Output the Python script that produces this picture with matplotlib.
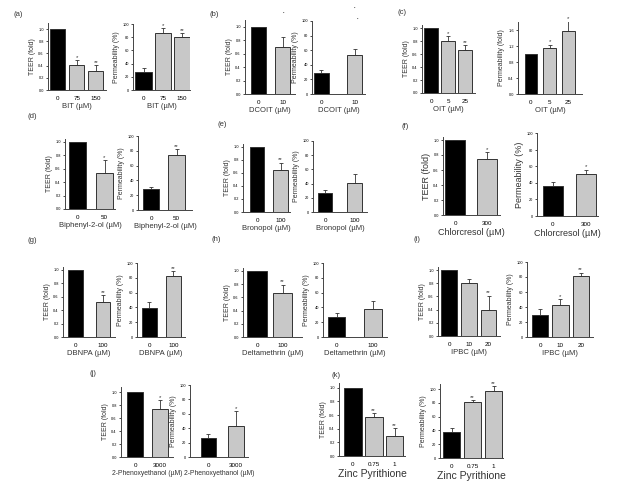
import matplotlib
matplotlib.use("Agg")
import matplotlib.pyplot as plt

plt.rcParams['font.family'] = ['Liberation Sans', 'DejaVu Sans']

W, H = 620, 486

# ---------------- data ----------------
a_ticks = ["0", "75", "150"]
a_xlabel = "BIT (µM)"
a_teer = [1.0, 0.41, 0.31]
a_teer_err = [0, 0.08, 0.10]
a_teer_sig = ["", "*", "**"]
a_perm = [28, 87, 80]
a_perm_err = [5, 6.5, 6]
a_perm_sig = ["", "*", "**"]

b_ticks = ["0", "10"]
b_xlabel = "DCOIT (µM)"
b_teer = [1.0, 0.70]
b_teer_err = [0, 0.14]
b_teer_sig = ["", ""]
b_perm = [29, 53]
b_perm_err = [4.5, 9]
b_perm_sig = ["", ""]

c_ticks = ["0", "5", "25"]
c_xlabel = "OIT (µM)"
c_teer = [1.0, 0.81, 0.67]
c_teer_err = [0, 0.07, 0.07]
c_teer_sig = ["", "*", "**"]
c_perm = [1.0, 1.15, 1.58]
c_perm_err = [0, 0.08, 0.24]
c_perm_sig = ["", "*", "*"]

d_ticks = ["0", "50"]
d_xlabel = "Biphenyl-2-ol (µM)"
d_teer = [1.0, 0.54]
d_teer_err = [0, 0.19]
d_teer_sig = ["", "*"]
d_perm = [29, 74]
d_perm_err = [2.5, 8]
d_perm_sig = ["", "**"]

e_ticks = ["0", "100"]
e_xlabel = "Bronopol (µM)"
e_teer = [1.0, 0.65]
e_teer_err = [0, 0.11]
e_teer_sig = ["", "**"]
e_perm = [27, 41]
e_perm_err = [4.5, 12]
e_perm_sig = ["", ""]

f_ticks = ["0", "300"]
f_xlabel = "Chlorcresol (µM)"
f_teer = [1.0, 0.74]
f_teer_err = [0, 0.10]
f_teer_sig = ["", "*"]
f_perm = [36, 51]
f_perm_err = [5, 5]
f_perm_sig = ["", "*"]

g_ticks = ["0", "100"]
g_xlabel = "DBNPA (µM)"
g_teer = [1.0, 0.515]
g_teer_err = [0, 0.11]
g_teer_sig = ["", "**"]
g_perm = [39.5, 82.7]
g_perm_err = [8, 6]
g_perm_sig = ["", "**"]

h_ticks = ["0", "100"]
h_xlabel = "Deltamethrin (µM)"
h_teer = [1.0, 0.66]
h_teer_err = [0, 0.13]
h_teer_sig = ["", "**"]
h_perm = [27, 38]
h_perm_err = [5, 10]
h_perm_sig = ["", ""]

i_ticks = ["0", "10", "20"]
i_xlabel = "IPBC (µM)"
i_teer = [1.0, 0.81, 0.40]
i_teer_err = [0, 0.06, 0.21]
i_teer_sig = ["", "", "**"]
i_perm = [30, 42.7, 81]
i_perm_err = [8, 8, 5]
i_perm_sig = ["", "*", "**"]

j_ticks = ["0", "3000"]
j_xlabel = "2-Phenoxyethanol (µM)"
j_teer = [1.0, 0.74]
j_teer_err = [0, 0.13]
j_teer_sig = ["", "*"]
j_perm = [27, 43]
j_perm_err = [5, 21]
j_perm_sig = ["", "*"]

k_ticks = ["0", "0.75", "1"]
k_xlabel = "Zinc Pyrithione"
k_teer = [1.0, 0.57, 0.29]
k_teer_err = [0, 0.06, 0.12]
k_teer_sig = ["", "**", "**"]
k_perm = [37, 81, 97]
k_perm_err = [7, 3, 7]
k_perm_sig = ["", "**", "**"]

teer_yticks = [0.0, 0.2, 0.4, 0.6, 0.8, 1.0]
perm_yticks = [0, 20, 40, 60, 80, 100]
fold_yticks = [0.0, 0.4, 0.8, 1.2, 1.6]

fig = plt.figure(figsize=(W / 100, H / 100), dpi=100)


def make_axes(x0, x1, ytop, ybot):
    return fig.add_axes([x0 / W, 1 - ybot / H, (x1 - x0) / W, (ybot - ytop) / H])


def panel(rect, vals, errs, sigs, ticks, xlabel, ylabel, ylim, yticks, yfmt,
          xlim, width, ylab_fs=5, xlab_fs=5.5, xt_fs=4.5):
    ax = make_axes(*rect)
    pos = list(range(len(vals)))
    colors = ["#000000"] + ["#c8c8c8"] * (len(vals) - 1)
    ax.bar(pos, vals, width=width, color=colors, edgecolor="#333333",
           linewidth=0.7, zorder=2)
    ax.errorbar(pos, vals, yerr=[[0] * len(vals), errs], fmt="none",
                ecolor="#333333", elinewidth=0.6, capsize=1.5, capthick=0.6,
                zorder=3)
    span = ylim[1] - ylim[0]
    for p, v, e, s in zip(pos, vals, errs, sigs):
        if s:
            ax.text(p, v + e + span * 0.005, s, ha="center", va="bottom",
                    fontsize=4.3, color="#333333")
    ax.set_xlim(*xlim)
    ax.set_ylim(*ylim)
    ax.set_xticks(pos)
    ax.set_xticklabels(ticks, fontsize=xt_fs)
    ax.set_yticks(yticks)
    ax.set_yticklabels([yfmt.format(t) for t in yticks], fontsize=2.8)
    ax.tick_params(axis="x", length=0, pad=4)
    ax.tick_params(axis="y", length=1.5, width=0.5, pad=1.5)
    for sp in ("top", "right"):
        ax.spines[sp].set_visible(False)
    for sp in ("left", "bottom"):
        ax.spines[sp].set_linewidth(0.7)
        ax.spines[sp].set_color("#444444")
    ax.set_xlabel(xlabel, fontsize=xlab_fs, labelpad=1.5, color="#333333")
    ax.set_ylabel(ylabel, fontsize=ylab_fs, labelpad=2, color="#333333")
    ax.patch.set_alpha(0)
    return ax


T = "TEER (fold)"
P = "Permeability (%)"

# (a)
panel((48, 106, 23, 90), a_teer, a_teer_err, a_teer_sig, a_ticks, a_xlabel, T,
      (0, 1.1), teer_yticks, "{:.1f}", (-0.49, 2.52), 0.78)
panel((133, 190, 24, 90), a_perm, a_perm_err, a_perm_sig, a_ticks, a_xlabel, P,
      (0, 100), perm_yticks, "{:d}", (-0.55, 2.42), 0.85)
# (b)
panel((245, 295, 20, 94), b_teer, b_teer_err, b_teer_sig, b_ticks, b_xlabel, T,
      (0, 1.1), teer_yticks, "{:.1f}", (-0.56, 1.52), 0.63)
panel((312, 365, 21, 94), b_perm, b_perm_err, b_perm_sig, b_ticks, b_xlabel, P,
      (0, 100), perm_yticks, "{:d}", (-0.28, 1.3), 0.45)
# (c)
panel((422, 475, 25, 93), c_teer, c_teer_err, c_teer_sig, c_ticks, c_xlabel, T,
      (0, 1.05), teer_yticks, "{:.1f}", (-0.55, 2.6), 0.85)
panel((518, 582, 21.6, 94), c_perm, c_perm_err, c_perm_sig, c_ticks, c_xlabel,
      "Permeability (fold)", (0, 1.81), fold_yticks, "{:.1f}", (-0.69, 2.72), 0.67)
# (d)
panel((65, 115, 138.6, 209), d_teer, d_teer_err, d_teer_sig, d_ticks, d_xlabel, T,
      (0, 1.05), teer_yticks, "{:.1f}", (-0.44, 1.38), 0.62)
panel((138, 192, 136, 210), d_perm, d_perm_err, d_perm_sig, d_ticks, d_xlabel, P,
      (0, 100), perm_yticks, "{:d}", (-0.51, 1.6), 0.65)
# (e)
panel((243, 290, 143.7, 212), e_teer, e_teer_err, e_teer_sig, e_ticks, e_xlabel, T,
      (0, 1.05), teer_yticks, "{:.1f}", (-0.6, 1.4), 0.62)
panel((313, 367, 141, 212), e_perm, e_perm_err, e_perm_sig, e_ticks, e_xlabel, P,
      (0, 100), perm_yticks, "{:d}", (-0.41, 1.42), 0.5)
# (f)
panel((443, 500, 137, 215), f_teer, f_teer_err, f_teer_sig, f_ticks, f_xlabel, T,
      (0, 1.04), teer_yticks, "{:.1f}", (-0.375, 1.4), 0.63,
      ylab_fs=6.5, xlab_fs=6.5)
panel((537, 598, 133.5, 216), f_perm, f_perm_err, f_perm_sig, f_ticks, f_xlabel, P,
      (0, 100), perm_yticks, "{:d}", (-0.48, 1.36), 0.6,
      ylab_fs=6.5, xlab_fs=6.5)
# (g)
panel((63, 115, 266.6, 337), g_teer, g_teer_err, g_teer_sig, g_ticks, g_xlabel, T,
      (0, 1.05), teer_yticks, "{:.1f}", (-0.45, 1.44), 0.53)
panel((137, 185, 263, 337), g_perm, g_perm_err, g_perm_sig, g_ticks, g_xlabel, P,
      (0, 100), perm_yticks, "{:d}", (-0.52, 1.48), 0.63)
# (h)
panel((243, 302, 267.7, 337), h_teer, h_teer_err, h_teer_sig, h_ticks, h_xlabel, T,
      (0, 1.05), teer_yticks, "{:.1f}", (-0.55, 1.76), 0.77)
panel((323, 387, 263, 337), h_perm, h_perm_err, h_perm_sig, h_ticks, h_xlabel, P,
      (0, 100), perm_yticks, "{:d}", (-0.37, 1.38), 0.48)
# (i)
panel((438, 500, 266.7, 336), i_teer, i_teer_err, i_teer_sig, i_ticks, i_xlabel, T,
      (0, 1.05), teer_yticks, "{:.1f}", (-0.56, 2.58), 0.8)
panel((527, 593, 262, 337), i_perm, i_perm_err, i_perm_sig, i_ticks, i_xlabel, P,
      (0, 100), perm_yticks, "{:d}", (-0.64, 2.6), 0.8)
# (j)
panel((121, 173, 386.8, 457), j_teer, j_teer_err, j_teer_sig, j_ticks, j_xlabel, T,
      (0, 1.08), teer_yticks, "{:.1f}", (-0.56, 1.52), 0.64, xlab_fs=4.9)
panel((190, 248, 385, 457), j_perm, j_perm_err, j_perm_sig, j_ticks, j_xlabel, P,
      (0, 100), perm_yticks, "{:d}", (-0.67, 1.44), 0.56, xlab_fs=4.9)
# (k)
panel((339, 405, 383, 456), k_teer, k_teer_err, k_teer_sig, k_ticks, k_xlabel, T,
      (0, 1.07), teer_yticks, "{:.1f}", (-0.67, 2.5), 0.84, xlab_fs=7.5)
panel((440, 503, 383.5, 458), k_perm, k_perm_err, k_perm_sig, k_ticks, k_xlabel, P,
      (0, 108), perm_yticks, "{:d}", (-0.55, 2.45), 0.81, xlab_fs=7.5)

# panel letters
letters = [("(a)", 13, 15), ("(b)", 210, 14), ("(c)", 397, 12),
           ("(d)", 27, 117), ("(e)", 218, 125), ("(f)", 402, 127),
           ("(g)", 28, 240), ("(h)", 212, 239), ("(i)", 413, 239),
           ("(j)", 90, 373), ("(k)", 332, 375)]
for t, x, y in letters:
    fig.text(x / W, 1 - y / H, t, fontsize=5.5, ha="left", va="center",
             color="#333333")

# stray marks in panel (b)
for x, y in [(284, 14), (355, 9), (358, 20)]:
    fig.text(x / W, 1 - y / H, "•", fontsize=3, ha="center", va="center",
             color="#333333")

fig.savefig("out.png", dpi=100)
